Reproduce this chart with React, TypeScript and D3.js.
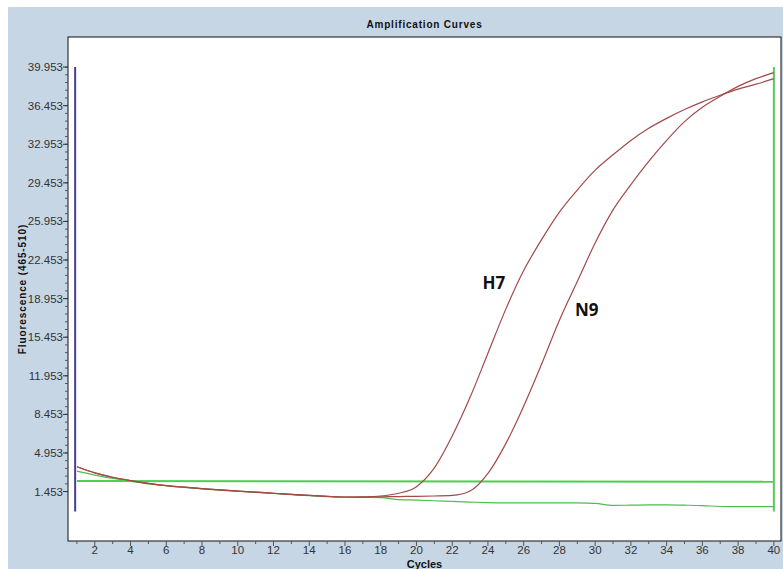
import * as d3 from "d3";
import React, { useEffect, useRef } from "react";

const cycles = d3.range(1, 41);

// shared baseline for cycles 1-16
const baseline = [3.7, 3.15, 2.75, 2.45, 2.2, 2.0, 1.85, 1.72, 1.6, 1.5, 1.4, 1.3, 1.2, 1.1, 1.02, 0.96];

const h7 = [
  ...baseline,
  0.98, 1.05, 1.3, 1.9, 3.6, 6.5, 10.0, 14.0, 18.0, 21.5, 24.3, 26.8, 28.8, 30.6,
  32.0, 33.3, 34.4, 35.3, 36.1, 36.8, 37.4, 37.95, 38.4, 38.9,
];

const n9 = [
  ...baseline,
  0.95, 0.98, 1.0, 1.02, 1.05, 1.1, 1.5, 3.1, 5.8, 9.2, 13.0, 17.0, 20.5, 24.0,
  27.0, 29.3, 31.4, 33.3, 35.0, 36.3, 37.3, 38.2, 38.9, 39.45,
];

const negative = [
  3.3, 2.95, 2.65, 2.4, 2.15, 1.98, 1.82, 1.7, 1.58, 1.48, 1.38, 1.28, 1.18, 1.08, 1.0, 0.94,
  0.92, 0.9, 0.72, 0.68, 0.62, 0.56, 0.5, 0.45, 0.43, 0.43, 0.43, 0.43, 0.43, 0.38,
  0.2, 0.22, 0.24, 0.25, 0.22, 0.18, 0.1, 0.09, 0.09, 0.09,
];

const threshold = 2.42;

const yTicks = d3.range(0, 12).map((k) => 1.453 + k * 3.5);
const yMinorTicks = d3.range(0, 56).map((k) => 1.453 + k * 0.7);
const xTicks = d3.range(2, 41, 2);

const labels = [
  { text: "H7", cycle: 23.7, value: 19.86 },
  { text: "N9", cycle: 28.87, value: 17.41 },
];

const App = () => {
  const svgRef = useRef<SVGSVGElement>(null);

  useEffect(() => {
    const W = 783,
      H = 569;
    const margin = { top: 37, right: 2, bottom: 28, left: 68 };

    const svg = d3.select(svgRef.current);
    svg.selectAll("*").remove();

    svg.append("rect").attr("width", W).attr("height", H).attr("fill", "#ffffff");
    svg
      .append("rect")
      .attr("x", 8)
      .attr("y", 7)
      .attr("width", W - 8)
      .attr("height", H - 7)
      .attr("fill", "#c6d6e5");

    const x = d3
      .scaleLinear()
      .domain([0.5, 40.4])
      .range([margin.left, W - margin.right]);
    const y = d3
      .scaleLinear()
      .domain([-3.03, 42.68])
      .range([H - margin.bottom, margin.top]);

    svg
      .append("rect")
      .attr("x", margin.left)
      .attr("y", margin.top)
      .attr("width", W - margin.right - margin.left)
      .attr("height", H - margin.bottom - margin.top)
      .attr("fill", "#ffffff")
      .attr("stroke", "#111")
      .attr("stroke-width", 1);

    // title
    svg
      .append("text")
      .attr("x", (margin.left + W - margin.right) / 2)
      .attr("y", 28)
      .attr("text-anchor", "middle")
      .style("font-family", "Liberation Sans, Arial, sans-serif")
      .style("font-size", "10px")
      .style("font-weight", "bold")
      .style("letter-spacing", "0.8px")
      .attr("fill", "#111")
      .text("Amplification Curves");

    // y axis
    const yAxis = svg.append("g");
    yAxis
      .selectAll("line.minor")
      .data(yMinorTicks.filter((v) => v <= 42))
      .enter()
      .append("line")
      .attr("x1", margin.left - 3)
      .attr("x2", margin.left)
      .attr("y1", (d) => y(d))
      .attr("y2", (d) => y(d))
      .attr("stroke", "#555");
    yAxis
      .selectAll("line.major")
      .data(yTicks)
      .enter()
      .append("line")
      .attr("x1", margin.left - 5)
      .attr("x2", margin.left)
      .attr("y1", (d) => y(d))
      .attr("y2", (d) => y(d))
      .attr("stroke", "#333");
    yAxis
      .selectAll("text")
      .data(yTicks)
      .enter()
      .append("text")
      .attr("x", margin.left - 5)
      .attr("y", (d) => y(d) + 4)
      .attr("text-anchor", "end")
      .style("font-family", "Liberation Sans, Arial, sans-serif")
      .style("font-size", "11.5px")
      .attr("fill", "#333")
      .text((d) => d.toFixed(3));

    svg
      .append("text")
      .attr("transform", `translate(26,${(margin.top + H - margin.bottom) / 2}) rotate(-90)`)
      .attr("text-anchor", "middle")
      .style("font-family", "Liberation Sans, Arial, sans-serif")
      .style("font-size", "10px")
      .style("font-weight", "bold")
      .style("letter-spacing", "0.9px")
      .attr("fill", "#111")
      .text("Fluorescence (465-510)");

    // x axis
    const xAxis = svg.append("g");
    xAxis
      .selectAll("line")
      .data(cycles)
      .enter()
      .append("line")
      .attr("x1", (d) => x(d))
      .attr("x2", (d) => x(d))
      .attr("y1", H - margin.bottom)
      .attr("y2", (d) => H - margin.bottom + (d % 2 === 0 ? 5 : 3))
      .attr("stroke", "#555");
    xAxis
      .selectAll("text")
      .data(xTicks)
      .enter()
      .append("text")
      .attr("x", (d) => x(d))
      .attr("y", H - margin.bottom + 13)
      .attr("text-anchor", "middle")
      .style("font-family", "Liberation Sans, Arial, sans-serif")
      .style("font-size", "11.5px")
      .attr("fill", "#333")
      .text((d) => d);

    svg
      .append("text")
      .attr("x", (margin.left + W - margin.right) / 2)
      .attr("y", H - 1)
      .attr("text-anchor", "middle")
      .style("font-family", "Liberation Sans, Arial, sans-serif")
      .style("font-size", "11px")
      .style("font-weight", "bold")
      .attr("fill", "#111")
      .text("Cycles");

    // range markers
    svg
      .append("line")
      .attr("x1", x(0.9))
      .attr("x2", x(0.9))
      .attr("y1", y(39.953))
      .attr("y2", y(-0.36))
      .attr("stroke", "#4a3f8e")
      .attr("stroke-width", 2);
    svg
      .append("line")
      .attr("x1", x(40))
      .attr("x2", x(40))
      .attr("y1", y(39.953))
      .attr("y2", y(-0.36))
      .attr("stroke", "#5cc85c")
      .attr("stroke-width", 2);

    // threshold
    svg
      .append("line")
      .attr("x1", x(1))
      .attr("x2", x(40))
      .attr("y1", y(threshold))
      .attr("y2", y(threshold - 0.08))
      .attr("stroke", "#4ccf4c")
      .attr("stroke-width", 2);

    const line = d3
      .line<number>()
      .x((_, i) => x(cycles[i]))
      .y((d) => y(d))
      .curve(d3.curveMonotoneX);

    svg
      .append("path")
      .attr("d", line(negative))
      .attr("fill", "none")
      .attr("stroke", "#4cbf4c")
      .attr("stroke-width", 1.2);

    [h7, n9].forEach((s) => {
      svg
        .append("path")
        .attr("d", line(s))
        .attr("fill", "none")
        .attr("stroke", "#a24a4a")
        .attr("stroke-width", 1.2);
    });

    svg
      .selectAll("text.lbl")
      .data(labels)
      .enter()
      .append("text")
      .attr("x", (d) => x(d.cycle))
      .attr("y", (d) => y(d.value))
      .style("font-family", "Open Sans, DejaVu Sans, sans-serif")
      .style("font-size", "17px")
      .style("font-weight", "bold")
      .attr("fill", "#111")
      .text((d) => d.text);
  }, []);

  return (
    <svg
      ref={svgRef}
      width={783}
      height={569}
      style={{ position: "absolute", left: 0, top: 0, display: "block" }}
    ></svg>
  );
};

export default App;
